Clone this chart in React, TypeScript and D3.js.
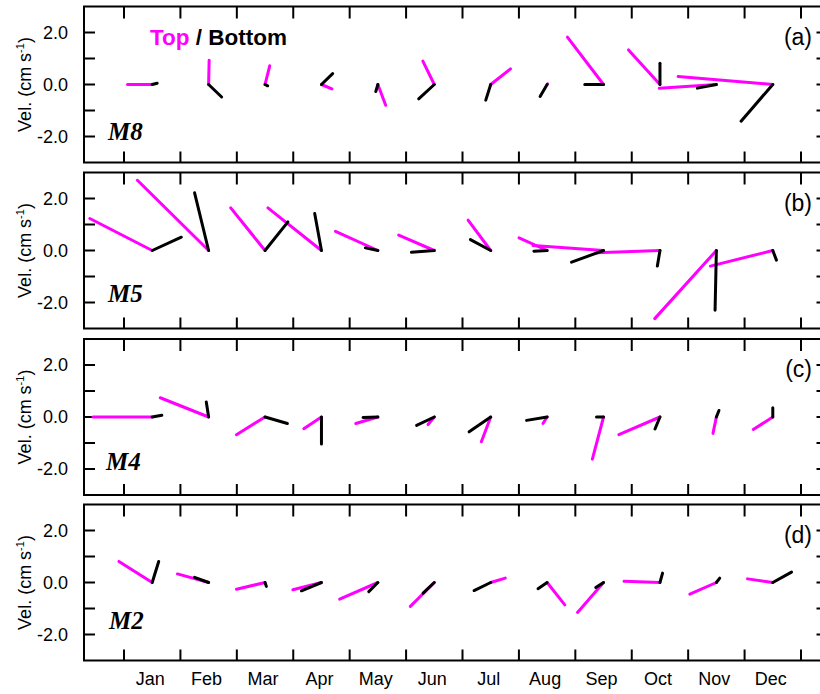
import React from "react";
import * as d3 from "d3";

const months = ["Jan", "Feb", "Mar", "Apr", "May", "Jun", "Jul", "Aug", "Sep", "Oct", "Nov", "Dec"];
const yTicks = [-2, -1, 0, 1, 2];
const yTickLabels = ["-2.0", "", "0.0", "", "2.0"];

// [u, v] in cm/s for each month
const m8Top = [[-0.95, 0], [0.02, 0.93], [0.18, 0.72], [0.4, -0.17], [0.3, -0.8], [-0.44, 0.9], [0.76, 0.6], [0.02, 0.03], [-1.39, 1.82], [-1.21, 1.33], [-2.2, -0.14], [-3.64, 0.31]];
const m8Bot = [[0.19, 0.05], [0.5, -0.48], [0.1, -0.05], [0.43, 0.42], [-0.08, -0.27], [-0.6, -0.55], [-0.19, -0.6], [-0.27, -0.46], [-0.72, 0], [0, 0.82], [-0.73, -0.14], [-1.22, -1.41]];
const m5Top = [[-2.4, 1.23], [-2.74, 2.7], [-1.32, 1.64], [-2.06, 1.64], [-1.63, 0.74], [-1.37, 0.59], [-0.87, 1.17], [-1.08, 0.49], [-2.71, 0.19], [-2.44, -0.09], [-2.37, -2.62], [-2.4, -0.6]];
const m5Bot = [[1.12, 0.51], [-0.54, 2.22], [0.88, 1.1], [-0.26, 1.42], [-0.48, 0.1], [-0.88, -0.07], [-0.78, 0.42], [-0.51, -0.03], [-1.23, -0.45], [-0.1, -0.6], [-0.05, -2.3], [0.14, -0.37]];
const m4Top = [[-2.28, 0], [-1.86, 0.74], [-1.1, -0.68], [-0.68, -0.45], [-0.85, -0.25], [-0.24, -0.29], [-0.36, -0.95], [-0.16, -0.25], [-0.43, -1.62], [-1.58, -0.68], [-0.13, -0.63], [-0.75, -0.48]];
const m4Bot = [[0.37, 0.07], [-0.09, 0.58], [0.86, -0.25], [0, -1.04], [-0.57, -0.02], [-0.68, -0.32], [-0.83, -0.57], [-0.79, -0.13], [-0.27, 0], [-0.19, -0.46], [0.1, 0.25], [0, 0.36]];
const m2Top = [[-1.28, 0.81], [-1.2, 0.33], [-1.1, -0.26], [-1.1, -0.28], [-1.47, -0.64], [-0.92, -0.92], [0.56, 0.17], [0.68, -0.86], [-1.0, -1.15], [-1.38, 0.05], [-1.02, -0.45], [-0.97, 0.14]];
const m2Bot = [[0.25, 0.81], [-0.54, 0.2], [0.05, -0.15], [-0.77, -0.32], [-0.35, -0.35], [-0.43, -0.41], [-0.64, -0.31], [-0.35, -0.24], [-0.3, -0.19], [0.1, 0.36], [0.13, 0.17], [0.72, 0.4]];

const stations = ["M8", "M5", "M4", "M2"];
const panelTags = ["(a)", "(b)", "(c)", "(d)"];
const topSeries = [m8Top, m5Top, m4Top, m2Top];
const botSeries = [m8Bot, m5Bot, m4Bot, m2Bot];

const W = 820, H = 694;
const LEFT = 84, RIGHT = 821.5;
const panelTops = [6.5, 172.5, 339, 504.5];
const PH = 156;
const labelOffsets = [[108, 133.5], [108, 129.5], [106, 131], [109, 124]];
const MAGENTA = "#ff00ff";

export default function App() {
  const x = d3.scaleLinear().domain([0, 12]).range([124, 801]);
  const sans = "'Liberation Sans', Arial, Helvetica, sans-serif";
  const serif = "'Liberation Serif', 'Times New Roman', serif";

  return (
    <svg width={W} height={H} style={{ position: "absolute", left: 0, top: 0, background: "#fff" }}>
      <rect x={0} y={0} width={W} height={H} fill="#fff" />
      {panelTops.map((top, p) => {
        const y = d3.scaleLinear().domain([-3, 3]).range([top + PH, top]);
        const k = y(0) - y(1);
        const y0 = y(0);
        const bottom = top + PH;
        const monthBounds = d3.range(13);
        return (
          <g key={p}>
            <text
              transform={`translate(31,${(top + bottom) / 2}) rotate(-90)`}
              textAnchor="middle"
              fontFamily={sans}
              fontSize={18}
            >
              Vel. (cm s<tspan fontSize={11} dy={-7}>-1</tspan><tspan dy={7}>)</tspan>
            </text>
            {yTicks.map((t, i) =>
              yTickLabels[i] ? (
                <text key={i} x={68} y={y(t)} dy="0.36em" textAnchor="end" fontFamily={sans} fontSize={18}>
                  {yTickLabels[i]}
                </text>
              ) : null
            )}
            {yTicks.map((t, i) => (
              <g key={"yt" + i}>
                <line x1={LEFT} x2={LEFT + 11} y1={y(t)} y2={y(t)} stroke="#000" strokeWidth={2} />
                <line x1={RIGHT - 5} x2={RIGHT} y1={y(t)} y2={y(t)} stroke="#000" strokeWidth={2} />
              </g>
            ))}
            {monthBounds.map((m) => (
              <g key={"xt" + m}>
                <line x1={x(m)} x2={x(m)} y1={top} y2={top + 12} stroke="#000" strokeWidth={2} />
                <line x1={x(m)} x2={x(m)} y1={bottom} y2={bottom - 11} stroke="#000" strokeWidth={2} />
              </g>
            ))}
            <path
              d={`M${RIGHT},${top}H${LEFT}V${bottom}H${RIGHT}`}
              fill="none"
              stroke="#000"
              strokeWidth={2}
            />
            {topSeries[p].map((d, i) => {
              const cx = x(i + 0.5);
              return (
                <line key={"t" + i} x1={cx} y1={y0} x2={cx + d[0] * k} y2={y(d[1])}
                  stroke={MAGENTA} strokeWidth={3} strokeLinecap="round" />
              );
            })}
            {botSeries[p].map((d, i) => {
              const cx = x(i + 0.5);
              return (
                <line key={"b" + i} x1={cx} y1={y0} x2={cx + d[0] * k} y2={y(d[1])}
                  stroke="#000" strokeWidth={3} strokeLinecap="round" />
              );
            })}
            <text x={labelOffsets[p][0]} y={top + labelOffsets[p][1]} fontFamily={serif}
              fontWeight="bold" fontStyle="italic" fontSize={25}>
              {stations[p]}
            </text>
            <text x={812} y={top + 38} textAnchor="end" fontFamily={sans} fontSize={23}>
              {panelTags[p]}
            </text>
          </g>
        );
      })}
      <text x={150} y={45} fontFamily={sans} fontWeight="bold" fontSize={22.5}>
        <tspan fill={MAGENTA}>Top</tspan>
        <tspan fill="#000"> / Bottom</tspan>
      </text>
      {months.map((m, i) => (
        <text key={m} x={x(i + 0.5) - 2} y={685}
          textAnchor="middle" fontFamily={sans} fontSize={18}>
          {m}
        </text>
      ))}
    </svg>
  );
}
